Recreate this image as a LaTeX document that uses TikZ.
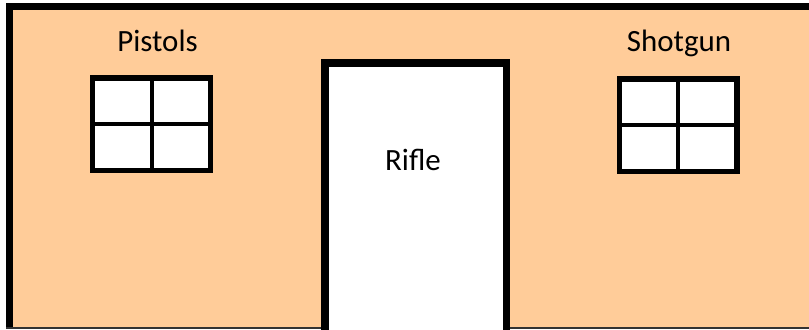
\documentclass[tikz,border=0pt]{standalone}
\usepackage{fontspec}
\setmainfont{Carlito}
\usetikzlibrary{positioning}

\definecolor{wallTan}{RGB}{255,204,153}

\begin{document}
\begin{tikzpicture}[x=0.02cm, y=-0.02cm, every node/.style={font=\fontsize{17.6}{20}\selectfont, anchor=base}]
    \useasboundingbox (0,0) rectangle (809,329);

    % wall
    \fill[wallTan] (6,3) rectangle (809,329);
    \draw[line width=0.14cm] (809,6.5) -- (9.5,6.5) -- (9.5,329);
    \draw[line width=0.03cm, black!80] (6,328) -- (809,328);

    % door
    \draw[fill=white, line width=0.15cm] (324.75,340) -- (324.75,62.75) -- (506.25,62.75) -- (506.25,340);
    \node (rifle) at (413,170) {Rifle};

    % windows
    \foreach \cx/\cy in {151.5/124, 678/125} {
      \draw[fill=white, line width=0.11cm] (\cx-58.75,\cy-46.25) rectangle (\cx+58.75,\cy+46.25);
      \draw[line width=0.08cm] (\cx,\cy-46.25) -- (\cx,\cy+46.25);
      \draw[line width=0.08cm] (\cx-58.75,\cy) -- (\cx+58.75,\cy);
    }
    \node (pistols) at (157.5,51.5) {Pistols};
    \node (shotgun) at (679,51.5) {Shotgun};
\end{tikzpicture}
\end{document}
